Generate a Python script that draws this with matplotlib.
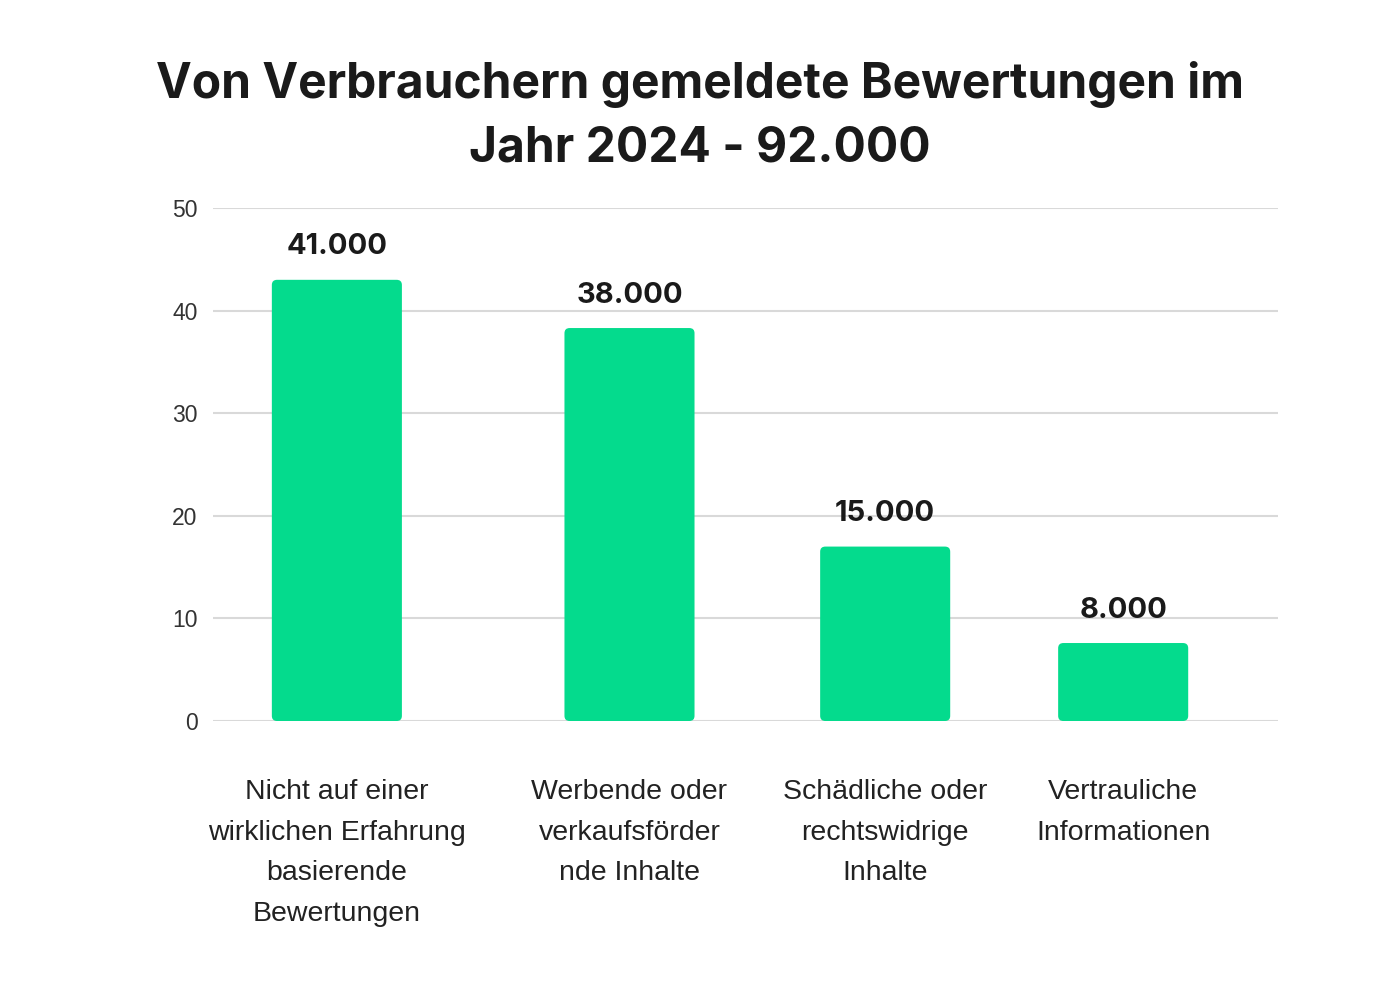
import matplotlib.pyplot as plt
from matplotlib.patches import FancyBboxPatch

# data
categories = [
    "Nicht auf einer\nwirklichen Erfahrung\nbasierende\nBewertungen",
    "Werbende oder\nverkaufsförder\nnde Inhalte",
    "Schädliche oder\nrechtswidrige\nInhalte",
    "Vertrauliche\nInformationen",
]
values = [43.0, 38.3, 17.0, 7.6]
value_labels = ["41.000", "38.000", "15.000", "8.000"]
yticks = [0, 10, 20, 30, 40, 50]

# layout (bars are not evenly spaced in the original)
positions = [0.477, 1.602, 2.585, 3.5]
bar_width = 0.5
green = "#04DB8D"

fig = plt.figure(figsize=(14, 10), dpi=100)
ax = fig.add_axes([0.152, 0.279, 0.761, 0.513])

bars = ax.bar(positions, values, width=bar_width, color=green, zorder=3)

# swap plain rectangles for slightly rounded ones
for b in bars:
    x, y = b.get_x(), b.get_y()
    w, h = b.get_width(), b.get_height()
    b.set_visible(False)
    patch = FancyBboxPatch((x, y), w, h,
                           boxstyle="round,pad=0,rounding_size=0.02",
                           mutation_aspect=25.0,
                           facecolor=green, edgecolor="none", zorder=3)
    ax.add_patch(patch)

for pos, val, lab in zip(positions, values, value_labels):
    ax.annotate(lab, (pos, val), xytext=(0, 14), textcoords="offset points",
                ha="center", va="bottom", fontsize=21, fontweight="bold",
                family="Inter", color="#1a1a1a")

ax.set_xlim(0, 4.096)
ax.set_ylim(0, 50)
ax.set_yticks(yticks)
ax.set_xticks(positions)
ax.set_xticklabels(categories, fontsize=20.5, family="Liberation Sans", color="#222222")
for t in ax.get_xticklabels():
    t.set_linespacing(1.72)
    t.set_verticalalignment("top")
for t in ax.get_yticklabels():
    t.set_fontsize(16.5)
    t.set_family("Liberation Sans")
    t.set_color("#333333")

ax.tick_params(axis="x", length=0, pad=42)
ax.tick_params(axis="y", length=0, pad=11)
ax.grid(axis="y", color="#d9d9d9", linewidth=1.5, zorder=0)
for s in ax.spines.values():
    s.set_visible(False)

fig.text(0.5, 0.884, "Von Verbrauchern gemeldete Bewertungen im\nJahr 2024 - 92.000",
         ha="center", va="center", fontsize=34.5, fontweight="bold",
         family="Inter", color="#1a1a1a", linespacing=1.5)

fig.savefig("out.png", dpi=100, facecolor="white")
